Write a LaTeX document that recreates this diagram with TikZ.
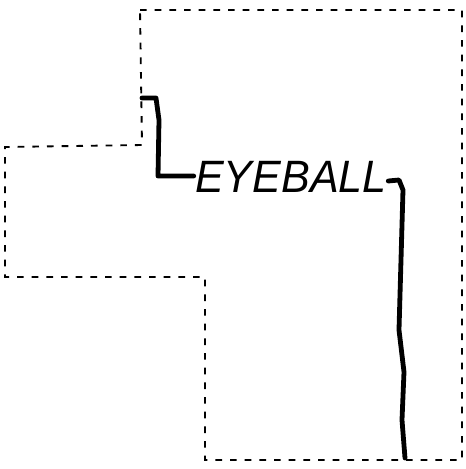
\documentclass[tikz,border=0pt]{standalone}
\usepackage{fontspec}
\setsansfont{Liberation Sans}
\usetikzlibrary{positioning, calc}

\begin{document}
\begin{tikzpicture}[
    x=0.75pt, y=-0.75pt,
    outline/.style={draw=black, line width=1.4pt,
                    dash pattern=on 5pt off 6pt},
    wire/.style={draw=black, line width=3.6pt, line join=round,
                 line cap=round},
    label/.style={font=\fontsize{34}{34}\selectfont\sffamily\itshape,
                  xscale=0.95, inner sep=1pt}
]
\useasboundingbox (0,0) rectangle (466,469);

% Dashed outline
\draw[outline] (140,10) -- (462,10) -- (462,460) -- (205,460)
    -- (205,277) -- (5,277) -- (5,147) -- (142,145) -- cycle;

% Label
\node[label] (eye) at (291,177) {EYEBALL};

% Wire ends
\coordinate (top) at (142,98);
\coordinate (bot) at (405,458);

% Wire
\draw[wire] (top) -- (156,98) -- (159,120) -- (158,176) -- (eye.west |- 0,176);
\draw[wire] (eye.east |- 0,181) -- (399,180) -- (403,190) -- (401,260)
    -- (399,330) -- (404,372) -- (402,420) -- (bot);

\end{tikzpicture}
\end{document}
